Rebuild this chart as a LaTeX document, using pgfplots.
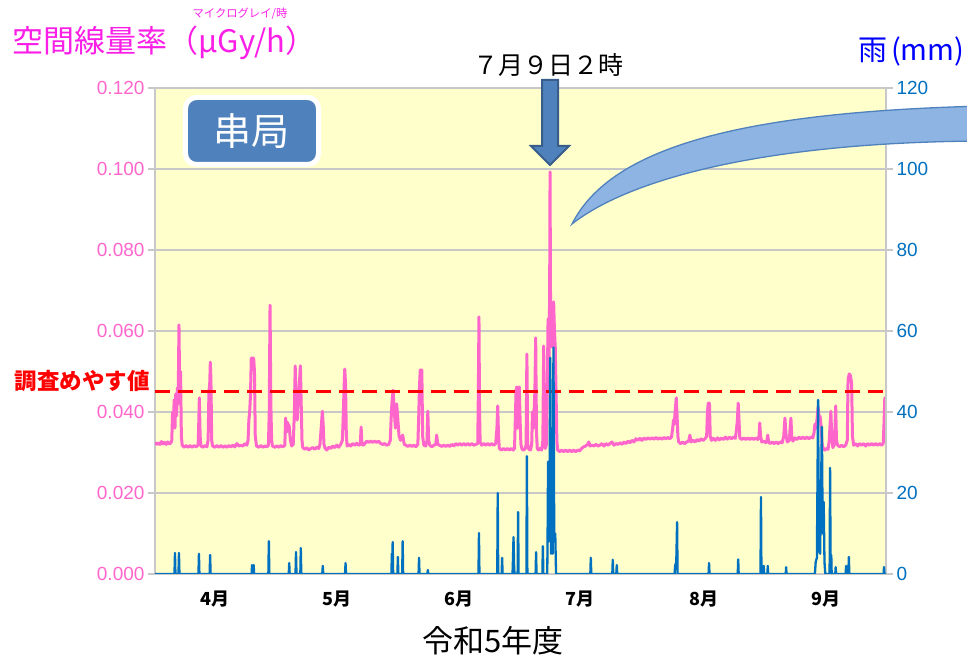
\documentclass[border=0pt]{standalone}
\usepackage{fontspec}
\usepackage{pgfplots}
\pgfplotsset{compat=1.18}
\setmainfont{Liberation Sans}
\newfontfamily\jp{Noto Sans CJK JP}

\definecolor{pinkline}{RGB}{255,102,204}
\definecolor{rainblue}{RGB}{0,112,192}
\definecolor{bgyellow}{RGB}{255,255,204}
\definecolor{gridgray}{RGB}{200,200,200}
\definecolor{titlemag}{RGB}{250,30,230}
\definecolor{boxblue}{RGB}{79,129,189}
\definecolor{boxedge}{RGB}{56,93,138}
\definecolor{callout}{RGB}{142,180,227}

% dose rate, uGy/h (day 0 = 1 April)
\pgfplotstableread{
d v
0.0 0.0325
0.4 0.0320
0.8 0.0323
1.2 0.0320
1.6 0.0327
2.0 0.0321
2.4 0.0325
2.8 0.0320
3.2 0.0326
3.6 0.0321
4.0 0.0324
4.2 0.0330
4.4 0.0400
4.6 0.0370
4.8 0.0430
5.0 0.0360
5.2 0.0445
5.4 0.0390
5.6 0.0460
5.8 0.0420
6.0 0.0615
6.2 0.0440
6.4 0.0500
6.6 0.0340
6.8 0.0318
7.3 0.0313
7.8 0.0317
8.3 0.0313
8.8 0.0317
9.3 0.0313
9.8 0.0317
10.3 0.0314
10.8 0.0318
10.9 0.0350
11.1 0.0435
11.3 0.0340
11.5 0.0316
12.0 0.0313
12.5 0.0317
13.0 0.0314
13.3 0.0330
13.5 0.0450
13.7 0.0470
13.85 0.0523
14.0 0.0480
14.2 0.0330
14.4 0.0316
15.0 0.0313
15.5 0.0317
16.0 0.0313
16.5 0.0317
17.0 0.0313
17.5 0.0316
18.0 0.0313
18.5 0.0317
19.0 0.0314
19.5 0.0318
20.0 0.0314
20.5 0.0322
21.0 0.0316
21.5 0.0318
22.0 0.0316
22.5 0.0322
23.0 0.0318
23.3 0.0330
23.5 0.0380
23.7 0.0400
23.9 0.0440
24.1 0.0533
24.4 0.0533
24.7 0.0533
24.9 0.0500
25.1 0.0340
25.4 0.0316
26.0 0.0313
26.5 0.0317
27.0 0.0313
27.5 0.0316
28.0 0.0314
28.4 0.0318
28.6 0.0400
28.8 0.0664
29.0 0.0420
29.2 0.0330
29.4 0.0316
30.0 0.0313
30.5 0.0316
31.0 0.0313
31.5 0.0317
32.0 0.0314
32.5 0.0318
32.7 0.0385
32.9 0.0350
33.1 0.0375
33.3 0.0370
33.6 0.0365
33.9 0.0330
34.2 0.0316
34.6 0.0320
34.9 0.0400
35.1 0.0514
35.3 0.0420
35.6 0.0380
35.9 0.0440
36.2 0.0480
36.4 0.0514
36.6 0.0420
36.8 0.0330
37.0 0.0312
37.5 0.0308
38.0 0.0312
38.5 0.0306
39.0 0.0310
39.5 0.0312
40.0 0.0308
40.5 0.0313
41.0 0.0310
41.3 0.0320
41.6 0.0360
41.9 0.0402
42.1 0.0370
42.3 0.0320
42.6 0.0310
43.0 0.0306
43.5 0.0313
44.0 0.0310
44.5 0.0316
45.0 0.0312
45.5 0.0318
46.0 0.0313
46.5 0.0320
46.9 0.0330
47.1 0.0380
47.3 0.0450
47.5 0.0506
47.7 0.0470
47.9 0.0340
48.1 0.0316
48.6 0.0320
49.0 0.0316
49.5 0.0322
50.0 0.0318
50.5 0.0323
51.0 0.0318
51.4 0.0320
51.6 0.0363
51.8 0.0320
52.2 0.0318
52.6 0.0323
53.0 0.0328
53.5 0.0325
54.0 0.0328
54.5 0.0325
55.0 0.0328
55.5 0.0325
56.0 0.0328
56.5 0.0322
57.0 0.0320
57.5 0.0322
58.0 0.0318
58.5 0.0320
58.9 0.0330
59.1 0.0380
59.3 0.0420
59.6 0.0454
59.9 0.0400
60.2 0.0360
60.5 0.0420
60.8 0.0380
61.1 0.0340
61.5 0.0330
62.0 0.0343
62.4 0.0320
62.8 0.0318
63.3 0.0315
63.8 0.0318
64.3 0.0315
64.8 0.0318
65.3 0.0314
65.8 0.0320
66.0 0.0380
66.2 0.0460
66.4 0.0504
66.6 0.0480
66.8 0.0504
67.0 0.0340
67.3 0.0318
67.8 0.0316
68.1 0.0330
68.3 0.0402
68.5 0.0330
68.8 0.0318
69.3 0.0314
69.8 0.0318
70.3 0.0320
70.5 0.0343
70.8 0.0320
71.2 0.0318
71.8 0.0315
72.3 0.0318
72.8 0.0315
73.3 0.0318
73.8 0.0315
74.3 0.0320
74.8 0.0316
75.3 0.0322
75.8 0.0318
76.3 0.0322
76.8 0.0318
77.3 0.0322
77.8 0.0318
78.3 0.0322
78.8 0.0318
79.3 0.0322
79.8 0.0318
80.3 0.0320
80.8 0.0322
80.95 0.0450
81.1 0.0635
81.25 0.0400
81.4 0.0325
81.8 0.0318
82.3 0.0322
82.8 0.0318
83.3 0.0322
83.8 0.0318
84.3 0.0322
84.8 0.0318
85.3 0.0322
85.6 0.0360
85.8 0.0415
86.0 0.0340
86.2 0.0310
86.7 0.0306
87.2 0.0310
87.7 0.0306
88.2 0.0310
88.7 0.0306
89.2 0.0310
89.7 0.0306
90.0 0.0310
90.2 0.0380
90.4 0.0455
90.6 0.0462
90.8 0.0360
91.0 0.0420
91.2 0.0462
91.4 0.0380
91.6 0.0320
91.9 0.0308
92.3 0.0306
92.7 0.0310
92.9 0.0320
93.1 0.0543
93.3 0.0320
93.6 0.0308
94.0 0.0306
94.3 0.0320
94.5 0.0400
94.7 0.0360
94.9 0.0400
95.1 0.0450
95.3 0.0583
95.5 0.0350
95.7 0.0310
96.0 0.0306
96.4 0.0310
96.8 0.0306
97.1 0.0330
97.3 0.0563
97.5 0.0340
97.7 0.0310
98.0 0.0320
98.2 0.0450
98.4 0.0630
98.6 0.0500
98.8 0.0700
98.9 0.0993
99.0 0.0700
99.2 0.0600
99.4 0.0560
99.6 0.0640
99.8 0.0672
100.0 0.0600
100.2 0.0560
100.4 0.0450
100.6 0.0330
100.8 0.0306
101.3 0.0302
101.8 0.0306
102.3 0.0302
102.8 0.0306
103.3 0.0302
103.8 0.0306
104.3 0.0302
104.8 0.0306
105.3 0.0302
105.8 0.0306
106.3 0.0304
106.8 0.0310
107.3 0.0314
107.8 0.0316
108.3 0.0320
108.6 0.0326
108.9 0.0316
109.4 0.0318
109.9 0.0316
110.4 0.0320
110.9 0.0316
111.4 0.0318
111.9 0.0322
112.4 0.0316
112.9 0.0322
113.4 0.0318
113.9 0.0322
114.4 0.0326
114.9 0.0318
115.4 0.0322
115.9 0.0320
116.4 0.0324
116.9 0.0320
117.4 0.0326
117.9 0.0322
118.4 0.0328
118.9 0.0324
119.4 0.0330
119.9 0.0326
120.4 0.0334
120.9 0.0330
121.4 0.0335
121.9 0.0330
122.4 0.0336
122.9 0.0332
123.4 0.0336
123.9 0.0333
124.4 0.0336
124.9 0.0333
125.4 0.0337
125.9 0.0333
126.4 0.0336
126.9 0.0333
127.4 0.0337
127.9 0.0334
128.4 0.0337
128.9 0.0334
129.3 0.0338
129.6 0.0360
129.8 0.0380
130.0 0.0370
130.2 0.0400
130.5 0.0435
130.7 0.0390
130.9 0.0340
131.1 0.0326
131.6 0.0322
132.1 0.0326
132.6 0.0322
133.1 0.0326
133.6 0.0328
133.9 0.0343
134.2 0.0326
134.7 0.0330
135.2 0.0326
135.7 0.0332
136.2 0.0328
136.7 0.0334
137.2 0.0330
137.7 0.0334
138.1 0.0340
138.3 0.0400
138.5 0.0422
138.8 0.0422
139.0 0.0340
139.3 0.0330
139.8 0.0335
140.3 0.0330
140.8 0.0336
141.3 0.0331
141.8 0.0336
142.3 0.0332
142.8 0.0338
143.3 0.0333
143.8 0.0338
144.3 0.0334
144.8 0.0338
145.3 0.0335
145.6 0.0360
145.8 0.0380
146.0 0.0422
146.2 0.0380
146.4 0.0336
146.9 0.0332
147.4 0.0336
147.9 0.0332
148.4 0.0336
148.9 0.0332
149.4 0.0336
149.9 0.0332
150.4 0.0336
150.9 0.0332
151.2 0.0340
151.4 0.0373
151.6 0.0340
151.9 0.0326
152.4 0.0328
152.9 0.0324
153.2 0.0330
153.4 0.0343
153.6 0.0326
154.0 0.0322
154.5 0.0326
155.0 0.0322
155.5 0.0326
156.0 0.0322
156.5 0.0326
157.0 0.0324
157.4 0.0340
157.7 0.0385
158.0 0.0340
158.3 0.0326
158.8 0.0330
159.0 0.0360
159.2 0.0385
159.4 0.0340
159.7 0.0328
160.2 0.0336
160.7 0.0332
161.2 0.0338
161.7 0.0334
162.2 0.0338
162.7 0.0334
163.2 0.0338
163.7 0.0334
164.2 0.0338
164.7 0.0336
165.0 0.0350
165.2 0.0370
165.5 0.0360
165.8 0.0390
166.0 0.0413
166.3 0.0380
166.5 0.0390
166.8 0.0360
167.0 0.0320
167.3 0.0310
167.7 0.0306
168.1 0.0310
168.5 0.0308
168.8 0.0330
169.0 0.0370
169.2 0.0402
169.4 0.0340
169.7 0.0312
170.1 0.0320
170.4 0.0415
170.6 0.0330
170.9 0.0318
171.4 0.0314
171.9 0.0318
172.4 0.0314
172.9 0.0318
173.3 0.0330
173.5 0.0480
173.8 0.0494
174.1 0.0490
174.4 0.0470
174.6 0.0340
174.9 0.0318
175.4 0.0322
175.9 0.0316
176.4 0.0322
176.9 0.0318
177.4 0.0322
177.9 0.0316
178.4 0.0322
178.9 0.0318
179.4 0.0322
179.9 0.0318
180.4 0.0322
180.9 0.0318
181.4 0.0322
181.9 0.0318
182.3 0.0322
182.5 0.0370
182.7 0.0435
183.0 0.0435
}\dose

% rainfall, mm
\pgfplotstableread{
d r
0 0
4.88 0
5.0 5.2
5.12 0
5.88 0
6.0 5.2
6.12 0
10.88 0
11.0 5.0
11.12 0
13.68 0
13.8 4.7
13.92 0
24.18 0
24.3 2.2
24.42 0
24.58 0
24.7 2.2
24.82 0
28.38 0
28.5 8.1
28.62 0
33.48 0
33.6 2.7
33.72 0
35.18 0
35.3 5.4
35.42 0
36.38 0
36.5 6.4
36.62 0
41.88 0
42.0 2.0
42.12 0
47.58 0
47.7 2.7
47.82 0
59.18 0
59.3 5.0
59.4 2.0
59.5 7.9
59.62 0
60.68 0
60.8 4.2
60.92 0
61.88 0
62.0 8.1
62.12 0
65.98 0
66.1 4.0
66.22 0
68.2 0
68.3 1.0
68.4 0
80.98 0
81.1 10.1
81.22 0
85.68 0
85.8 20.0
85.92 0
86.78 0
86.9 4.0
87.02 0
89.5 0
89.6 3.0
89.75 9.1
89.9 2.0
90.0 0
90.78 0
90.9 15.3
91.02 0
92.98 0
93.1 29.1
93.22 0
95.28 0
95.4 5.4
95.52 0
96.98 0
97.1 6.9
97.22 0
98.2 0
98.3 12.0
98.4 27.7
98.55 8.0
98.7 12.0
98.95 53.4
99.15 5.0
99.35 6.7
99.55 5.0
99.75 55.9
99.95 8.0
100.2 10.0
100.4 0
108.98 0
109.1 4.0
109.22 0
114.48 0
114.6 3.5
114.72 0
115.48 0
115.6 2.2
115.72 0
130.08 0
130.2 2.0
130.5 3.0
130.7 12.8
130.82 0
138.58 0
138.7 2.7
138.82 0
145.88 0
146.0 3.6
146.12 0
151.58 0
151.7 19.0
151.82 0
152.3 0
152.4 2.0
152.5 0
153.3 0
153.4 2.0
153.5 0
157.9 0
158.0 1.7
158.1 0
165.2 0
165.4 3.0
165.7 4.0
166.0 43.0
166.2 6.0
166.5 5.0
166.95 36.3
167.15 10.0
167.4 17.8
167.6 3.0
167.8 0
168.88 0
169.0 26.2
169.12 4.7
169.3 4.7
169.4 0
170.3 0
170.4 1.7
170.5 0
172.9 0
173.0 2.0
173.1 0
173.58 0
173.7 4.2
173.82 0
182.4 0
182.5 1.7
182.6 0
183 0
}\rain

\begin{document}
\begin{tikzpicture}[x=1pt,y=1pt]
\useasboundingbox (-155,-87) rectangle (812,574);
\begin{axis}[
  at={(0,0)}, anchor=south west,
  scale only axis, width=731pt, height=486pt,
  xmin=0, xmax=183, ymin=0, ymax=0.12,
  axis background/.style={fill=bgyellow},
  axis x line*=bottom, axis y line*=left,
  axis line style={gridgray, line width=1.5pt},
  xtick={15,45.5,76,106.5,137.5,168},
  xticklabels={4月,5月,6月,7月,8月,9月},
  xtick style={draw=none},
  xticklabel style={font=\jp\bfseries\fontsize{18}{20}\selectfont, yshift=-6pt},
  ytick={0,0.02,...,0.12},
  ytick style={gridgray, line width=1.5pt},
  tick align=outside, major tick length=7pt,
  ymajorgrids, grid style={gridgray, line width=1.3pt},
  yticklabel style={font=\fontsize{19}{20}\selectfont, text=pinkline},
  /pgf/number format/.cd, fixed, fixed zerofill, precision=3, assume math mode=true,
]
\addplot[pinkline, line width=3pt, line join=round] table[x=d, y=v] {\dose};
\addplot[red, line width=3pt, dash pattern=on 15pt off 8pt] coordinates {(0,0.045) (183,0.045)};
\end{axis}
\begin{axis}[
  at={(0,0)}, anchor=south west,
  scale only axis, width=731pt, height=486pt,
  xmin=0, xmax=183, ymin=0, ymax=120,
  axis x line=none, axis y line*=right,
  axis line style={gridgray, line width=1.5pt},
  ytick={0,20,...,120},
  ytick style={gridgray, line width=1.5pt},
  tick align=outside, major tick length=7pt,
  yticklabel style={font=\fontsize{19}{20}\selectfont, text=rainblue},
  /pgf/number format/assume math mode=true,
]
\addplot[rainblue, line width=2.3pt, line join=round] table[x=d, y=r] {\rain};
\end{axis}

% callout tail
\filldraw[fill=callout, draw=boxblue, line width=1.3pt]
  (417,350) .. controls (455,425) and (580,462) .. (830,468)
  -- (830,433) .. controls (600,432) and (470,392) .. (417,350) -- cycle;
% arrow
\filldraw[fill=boxblue, draw=boxedge, line width=2pt]
  (387,494) -- (403,494) -- (403,428) -- (414,428) -- (395,409)
  -- (376,428) -- (387,428) -- cycle;
% station box
\node[fill=boxblue, draw=white, line width=5pt, rounded corners=11pt,
  minimum width=133pt, minimum height=67pt, text=white,
  font=\jp\fontsize{38}{40}\selectfont] at (97,443) {串局};

\node[anchor=west, text=titlemag, inner sep=0pt, font=\jp\fontsize{31}{34}\selectfont]
  at (-143,531) {空間線量率（μGy/h）};
\node[text=titlemag, inner sep=0pt, font=\jp\fontsize{11.3}{12}\selectfont]
  at (85,560) {マイクログレイ/時};
\node[anchor=west, text=blue, inner sep=0pt, font=\jp\fontsize{29}{32}\selectfont]
  at (703,523) {雨\kern4pt(mm)};
\node[inner sep=0pt, font=\jp\fontsize{25}{27}\selectfont] at (393,509) {７月９日２時};
\node[inner sep=0pt, font=\jp\fontsize{31}{33}\selectfont] at (338,-67) {令和5年度};
\node[anchor=east, text=red, inner sep=0pt, font=\jp\bfseries\fontsize{22.5}{24}\selectfont]
  at (-5,193) {調査めやす値};
\end{tikzpicture}
\end{document}
